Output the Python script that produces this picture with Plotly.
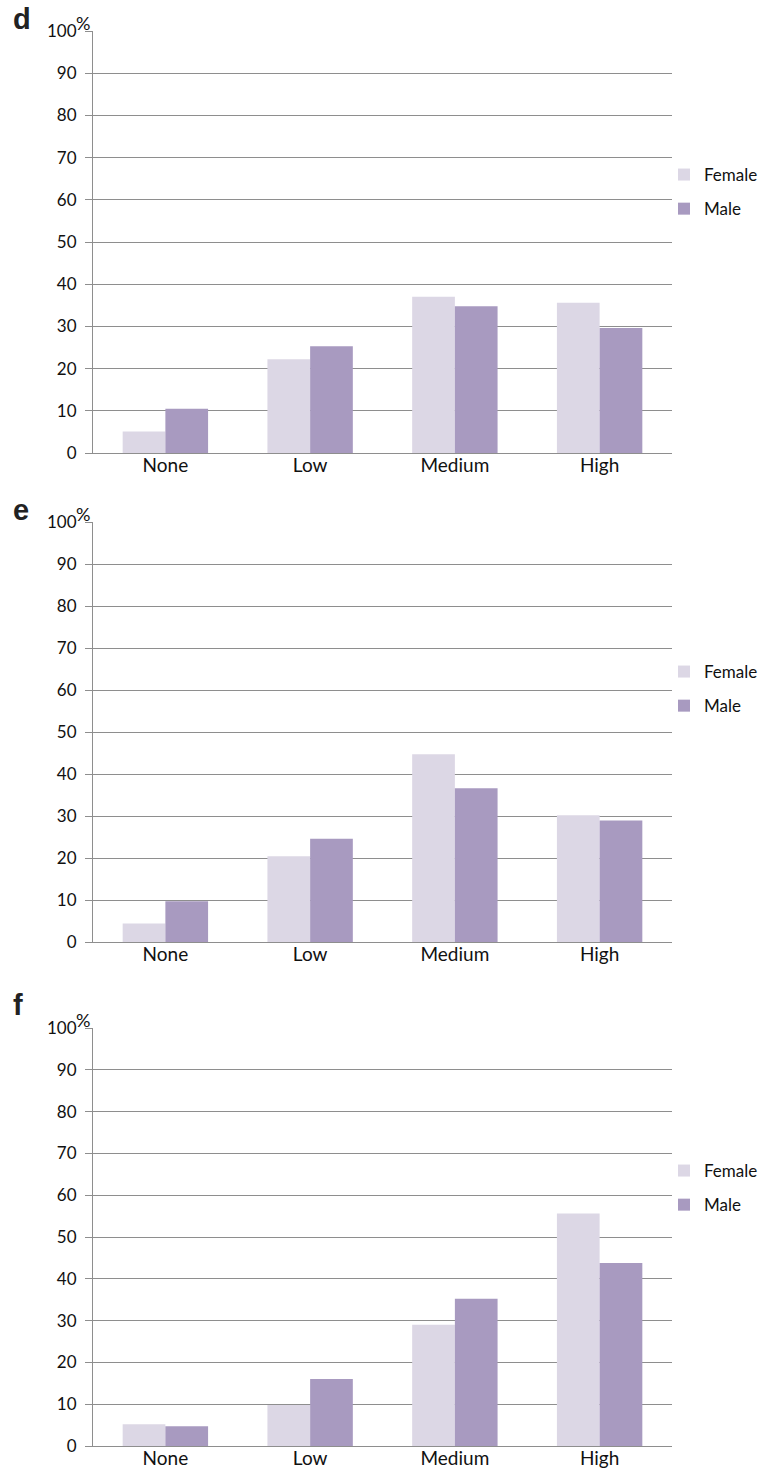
import plotly.graph_objects as go

categories = ["None", "Low", "Medium", "High"]
panel_labels = ["d", "e", "f"]
female_d = [5.1, 22.2, 37.0, 35.6]
male_d = [10.5, 25.3, 34.8, 29.6]
female_e = [4.4, 20.4, 44.7, 30.2]
male_e = [9.7, 24.6, 36.6, 28.9]
female_f = [5.2, 9.8, 29.0, 55.6]
male_f = [4.7, 16.0, 35.2, 43.8]
y_ticks = [0, 10, 20, 30, 40, 50, 60, 70, 80, 90, 100]

FEMALE_C = "#DCD7E5"
MALE_C = "#A89AC0"
GRID_C = "#8E8E8E"
FONT = "Lato, Carlito, 'Open Sans', sans-serif"

# the page's body margin is removed below, so figure px == reference px
W, H = 762, 1468
PL, PR = 93, 672            # reference px of plot left/right
L = PL
R = W - PR
T = 31
B = H - 1446
plot_h = H - T - B
plot_w = W - L - R
panels_px = [(31, 453), (522, 942), (1028, 1446)]
legend_px = [157, 654, 1153]
letter_px = [19, 510, 1005]

def py(p):
    return (H - B - p) / plot_h

def px(p):
    return (p - L) / plot_w

fig = go.Figure()
data = [(female_d, male_d), (female_e, male_e), (female_f, male_f)]
for i, (fv, mv) in enumerate(data):
    ax = "" if i == 0 else str(i + 1)
    lg = "legend" if i == 0 else f"legend{i + 1}"
    fig.add_trace(go.Bar(x=categories, y=fv, name="Female", marker_color=FEMALE_C,
                         marker_line_width=0, xaxis="x" + ax, yaxis="y" + ax,
                         legend=lg, legendgroup=f"f{i}"))
    fig.add_trace(go.Bar(x=categories, y=mv, name="Male", marker_color=MALE_C,
                         marker_line_width=0, xaxis="x" + ax, yaxis="y" + ax,
                         legend=lg, legendgroup=f"m{i}"))
    top, bot = panels_px[i]
    fig.layout["yaxis" + ax] = dict(
        domain=[py(bot), py(top)], range=[0, 100], tickvals=y_ticks,
        showgrid=True, gridcolor=GRID_C, gridwidth=1, zeroline=False,
        showline=True, linecolor=GRID_C, linewidth=1,
        ticks="outside", ticklen=7, tickcolor=GRID_C, ticklabelstandoff=5,
        tickfont=dict(family=FONT, size=17, color="#111"),
        anchor="x" + ax, fixedrange=True)
    fig.layout["xaxis" + ax] = dict(
        domain=[0, 1], anchor="y" + ax, showline=True, linecolor=GRID_C,
        linewidth=1, ticks="", ticklabelstandoff=-5,
        tickfont=dict(family=FONT, size=19, color="#111"),
        fixedrange=True)
    fig.layout[lg] = dict(
        x=px(664), xanchor="left", y=py(legend_px[i]), yanchor="top",
        font=dict(family=FONT, size=17, color="#111"), bgcolor="rgba(0,0,0,0)",
        tracegroupgap=9, itemclick=False)
    fig.add_annotation(text="%", xref="paper", yref="paper", x=px(92), y=py(top - 8),
                       xanchor="right", yanchor="middle", showarrow=False,
                       font=dict(family=FONT, size=18, color="#111"))
    fig.add_annotation(text="<b>" + panel_labels[i] + "</b>", xref="paper", yref="paper",
                       x=px(11), y=py(letter_px[i]), xanchor="left",
                       yanchor="middle", showarrow=False,
                       font=dict(family="Liberation Sans, Arial", size=29, color="#222"))

fig.update_layout(width=W, height=H,
                  margin=dict(l=L, r=R, t=T, b=B, autoexpand=False),
                  barmode="group", bargap=0.41, bargroupgap=0,
                  plot_bgcolor="white", paper_bgcolor="white", showlegend=True)

fig.write_html("out.html", config={"displayModeBar": False},
               post_script="document.body.style.margin='0';"
                           "document.body.style.overflow='hidden';")
